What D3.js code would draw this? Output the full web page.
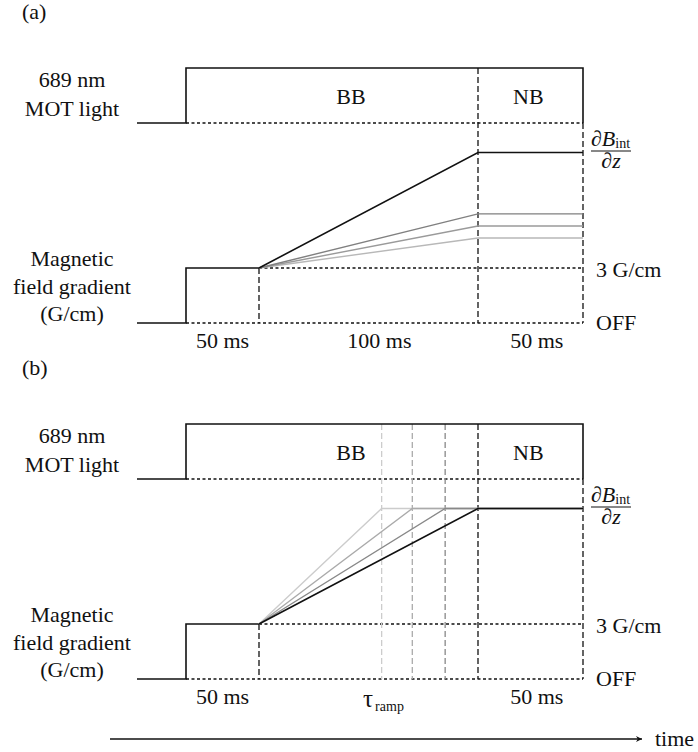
<!DOCTYPE html>
<html>
<head>
<meta charset="utf-8">
<script src="https://cdn.jsdelivr.net/npm/d3@7"></script>
<style>
  html, body { margin: 0; padding: 0; background: #fff; }
  svg { display: block; }
</style>
</head>
<body>
<svg id="chart" width="698" height="752" font-family="'Liberation Serif', 'DejaVu Serif', 'Times New Roman', serif"></svg>
<script>
// ---- data ----
// time knots of the sequence (ms): before, MOT on, end of 50 ms hold, end of ramp, end
const timeKnots = [-35, 0, 50, 150, 200];
// MOT light (0 = off, 1 = on)
const lightTimes = [-35, 0, 0, 200, 200];
const lightLevels = [0, 0, 1, 1, 0];
// magnetic field gradient (G/cm) before ramp
const holdTimes = [-35, 0, 0, 50];
const holdLevels = [0, 0, 3, 3];
const holdGradient = 3;
// panel (a): final gradients of different ramps (black = dB_int/dz)
const finalGradientsA = [4.64, 5.29, 5.95, 9.3];
const colorsA = ["#b8b8b8", "#9a9a9a", "#808080", "#111"];
// panel (b): ramp durations (ms) to dB_int/dz
const rampDurationsB = [56, 70, 85, 100];
const colorsB = ["#cccccc", "#aaaaaa", "#888888", "#111"];
const finalGradientB = 9.3;
// phase labels
const phaseLabelsA = ["50 ms", "100 ms", "50 ms"];
const phaseTimesA = [25, 105, 178];
const phaseLabelsB = ["50 ms", "τ", "50 ms"];
const phaseTimesB = [25, 103, 178];
const regimeLabels = ["BB", "NB"];
const regimeTimes = [92, 174];

const FONT = "'Liberation Serif', 'DejaVu Serif', 'Times New Roman', serif";
const svg = d3.select("#chart");

const x = d3.scaleLinear().domain(timeKnots).range([137, 186, 259, 478, 583]);
const yLight = d3.scaleLinear().domain([0, 1]).range([123, 68]);
const yField = d3.scaleLinear().domain([0, 3]).range([323, 268]);

const lineGen = d3.line().x(d => x(d[0]));

function txt(g, s, xx, yy, size, anchor) {
  return g.append("text").attr("x", xx).attr("y", yy).attr("font-size", size)
    .attr("font-family", FONT).attr("fill", "#111")
    .attr("text-anchor", anchor || "start").text(s);
}

function drawPanel(offset, panel) {
  const g = svg.append("g").attr("transform", `translate(0,${offset})`);

  // panel label
  txt(g, panel === "a" ? "(a)" : "(b)", 22, 19, 22);

  // left labels
  const left = [["689 nm", 87], ["MOT light", 116], ["Magnetic", 266], ["field gradient", 294], ["(G/cm)", 321]];
  left.forEach(([t, yb]) => txt(g, t, 72, yb, 22, "middle"));

  // dotted reference lines
  const dotted = (x1, x2, y) => g.append("line").attr("x1", x1).attr("x2", x2).attr("y1", y).attr("y2", y)
    .attr("stroke", "#111").attr("stroke-width", 1.3).attr("stroke-dasharray", "3,2.5");
  dotted(x(0), x(200), yLight(0));
  dotted(x(50), x(200), yField(holdGradient));
  dotted(x(0), x(200), yField(0));

  // dashed verticals
  const dashed = (t, y1, y2, col) => g.append("line").attr("x1", x(t)).attr("x2", x(t)).attr("y1", y1).attr("y2", y2)
    .attr("stroke", col).attr("stroke-width", 1.3).attr("stroke-dasharray", "6,3");
  dashed(50, yField(holdGradient), yField(0), "#111");
  if (panel === "b") {
    rampDurationsB.forEach((d, i) => {
      if (d !== 100) dashed(50 + d, yLight(1), yField(0), colorsB[i]);
    });
  }
  dashed(150, yLight(1), yField(0), "#111");
  dashed(200, yLight(0), yField(0), "#111");

  // MOT light
  const lightPts = lightTimes.map((t, i) => [t, lightLevels[i]]);
  g.append("path").attr("d", lineGen.y(d => yLight(d[1]))(lightPts))
    .attr("fill", "none").attr("stroke", "#111").attr("stroke-width", 1.6);

  // field gradient hold
  const holdPts = holdTimes.map((t, i) => [t, holdLevels[i]]);
  g.append("path").attr("d", lineGen.y(d => yField(d[1]))(holdPts))
    .attr("fill", "none").attr("stroke", "#111").attr("stroke-width", 1.6);

  // ramps
  if (panel === "a") {
    finalGradientsA.forEach((b, i) => {
      const pts = [[50, holdGradient], [150, b], [200, b]];
      g.append("path").attr("d", lineGen.y(d => yField(d[1]))(pts))
        .attr("fill", "none").attr("stroke", colorsA[i]).attr("stroke-width", i === 3 ? 1.6 : 1.4);
    });
  } else {
    rampDurationsB.forEach((d, i) => {
      const pts = [[50, holdGradient], [50 + d, finalGradientB], [200, finalGradientB]];
      g.append("path").attr("d", lineGen.y(p => yField(p[1]))(pts))
        .attr("fill", "none").attr("stroke", colorsB[i]).attr("stroke-width", i === 3 ? 1.6 : 1.4);
    });
  }

  // regime labels
  regimeLabels.forEach((t, i) => txt(g, t, x(regimeTimes[i]), 104, 22, "middle"));

  // right labels: dB_int/dz fraction
  const bTop = yField(finalGradientB);
  const num = txt(g, "", 591, bTop - 7, 22);
  num.append("tspan").attr("font-style", "italic").text("∂B");
  num.append("tspan").attr("font-size", 14).attr("dy", 2).text("int");
  g.append("line").attr("x1", 591).attr("x2", 631).attr("y1", bTop - 1.5).attr("y2", bTop - 1.5)
    .attr("stroke", "#111").attr("stroke-width", 1);
  txt(g, "∂z", 611, bTop + 15, 22, "middle").attr("font-style", "italic");
  txt(g, "3 G/cm", 596, yField(holdGradient) + 9, 22);
  txt(g, "OFF", 596, yField(0) + 7, 22);

  // phase labels
  const labels = panel === "a" ? phaseLabelsA : phaseLabelsB;
  const times = panel === "a" ? phaseTimesA : phaseTimesB;
  labels.forEach((t, i) => {
    if (t === "τ") {
      const tt = txt(g, "", x(times[i]) - 12, 351, 25);
      tt.append("tspan").text("τ");
      tt.append("tspan").attr("font-size", 14).attr("dx", 2).attr("dy", 4).text("ramp");
    } else {
      txt(g, t, x(times[i]), 348, 22, "middle");
    }
  });
}

drawPanel(0, "a");
drawPanel(356, "b");

// time arrow
const defs = svg.append("defs");
defs.append("marker").attr("id", "arr").attr("viewBox", "0 0 10 10").attr("refX", 10).attr("refY", 5)
  .attr("markerWidth", 10).attr("markerHeight", 6).attr("markerUnits", "userSpaceOnUse")
  .attr("orient", "auto")
  .append("path").attr("d", "M0,0 L10,5 L0,10 L3,5 Z").attr("fill", "#111");
svg.append("line").attr("x1", 110).attr("x2", 642).attr("y1", 739).attr("y2", 739)
  .attr("stroke", "#111").attr("stroke-width", 1.6).attr("marker-end", "url(#arr)");
txt(svg, "time", 655, 746, 22);
</script>
</body>
</html>
